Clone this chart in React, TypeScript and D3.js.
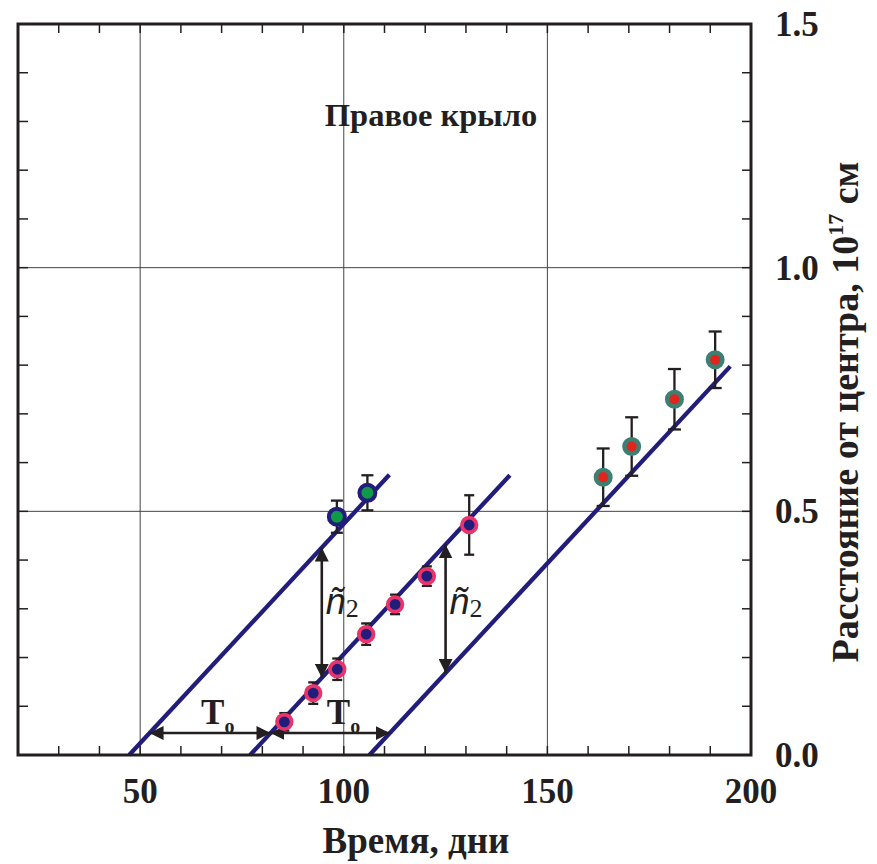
import React from 'react';
import * as d3 from 'd3';

// ---- data ----
const xMajorTicks = [50, 100, 150, 200];
const xTickLabels = ['50', '100', '150', '200'];
const yMajorTicks = [0.0, 0.5, 1.0, 1.5];
const yTickLabels = ['0.0', '0.5', '1.0', '1.5'];
const xGridValues = [50, 100, 150];
const yGridValues = [0.5, 1.0];

// green-filled points (upper line)
const greenDays = [98.3, 105.8];
const greenDist = [0.489, 0.538];
const greenErr = [0.033, 0.036];

// navy points with crimson rings (middle line)
const pinkDays = [85.4, 92.5, 98.4, 105.5, 112.6, 120.4, 130.8];
const pinkDist = [0.068, 0.127, 0.176, 0.248, 0.309, 0.367, 0.472];
const pinkErr = [0.018, 0.022, 0.022, 0.022, 0.02, 0.02, 0.061];

// red points with teal rings (lower line)
const redDays = [163.7, 170.7, 181.2, 191.2];
const redDist = [0.57, 0.633, 0.73, 0.811];
const redErr = [0.059, 0.06, 0.062, 0.058];

// fitted lines: start day at zero distance, end day, common slope
const fitStartDays = [47.3, 77.0, 106.3];
const fitEndDays = [111.2, 140.8, 194.9];
const fitSlope = 0.009;

// annotation anchors
const t0Level = 0.045;
const n2Days = [94.6, 125.0];
const t0LabelDays = [67.4, 98.3];

const W = 877;
const H = 864;

const serif = '"Liberation Serif", "Times New Roman", serif';
const sans = '"Liberation Sans", Arial, sans-serif';

const NAVY = '#221d7a';
const INK = '#231f20';

export default function App() {
  const x = d3.scaleLinear().domain([20, 200]).range([18, 751]);
  const y = d3.scaleLinear().domain([0, 1.5]).range([755, 24]);
  const [x0, x1] = x.range();
  const [yb, yt] = y.range();

  const xMinor = d3.range(20, 201, 10);
  const yMinor = d3.range(0, 16, 1).map((d) => d / 10);

  const fitAt = (i: number, t: number) => (t - fitStartDays[i]) * fitSlope;
  const dayAt = (i: number, v: number) => fitStartDays[i] + v / fitSlope;

  const errBar = (t: number, v: number, e: number, cap: number, key: string) => (
    <g key={key} stroke={INK} strokeWidth={2.3}>
      <line x1={x(t)} x2={x(t)} y1={y(v + e)} y2={y(v - e)} />
      <line x1={x(t) - cap} x2={x(t) + cap} y1={y(v + e)} y2={y(v + e)} />
      <line x1={x(t) - cap} x2={x(t) + cap} y1={y(v - e)} y2={y(v - e)} />
    </g>
  );

  return (
    <svg
      width={W}
      height={H}
      style={{ position: 'absolute', left: 0, top: 0, background: '#fff' }}
    >
      <defs>
        <marker
          id="ah"
          viewBox="0 0 12 12"
          refX={12}
          refY={6}
          markerWidth={14}
          markerHeight={14}
          markerUnits="userSpaceOnUse"
          orient="auto-start-reverse"
        >
          <path d="M0,0 L12,6 L0,12 Z" fill={INK} />
        </marker>
      </defs>

      {/* grid */}
      {xGridValues.map((v) => (
        <line key={'gx' + v} x1={x(v)} x2={x(v)} y1={yt} y2={yb} stroke="#444" strokeWidth={1} />
      ))}
      {yGridValues.map((v) => (
        <line key={'gy' + v} x1={x0} x2={x1} y1={y(v)} y2={y(v)} stroke="#444" strokeWidth={1} />
      ))}

      {/* minor ticks */}
      {xMinor.map((v) => (
        <g key={'tx' + v} stroke={INK} strokeWidth={1.5}>
          <line x1={x(v)} x2={x(v)} y1={yt} y2={yt + 9} />
          <line x1={x(v)} x2={x(v)} y1={yb} y2={yb - 9} />
        </g>
      ))}
      {yMinor.map((v) => (
        <g key={'ty' + v} stroke={INK} strokeWidth={1.5}>
          <line x1={x0} x2={x0 + 10} y1={y(v)} y2={y(v)} />
          <line x1={x1} x2={x1 - 9} y1={y(v)} y2={y(v)} />
        </g>
      ))}

      {/* fitted lines */}
      {fitStartDays.map((s, i) => (
        <line
          key={'fit' + i}
          x1={x(s)}
          y1={y(0)}
          x2={x(fitEndDays[i])}
          y2={y(fitAt(i, fitEndDays[i]))}
          stroke={NAVY}
          strokeWidth={4.3}
        />
      ))}

      {/* T0 arrows */}
      {[0, 1].map((i) => (
        <line
          key={'t0' + i}
          x1={x(dayAt(i, t0Level))}
          x2={x(dayAt(i + 1, t0Level))}
          y1={y(t0Level)}
          y2={y(t0Level)}
          stroke={INK}
          strokeWidth={2.6}
          markerStart="url(#ah)"
          markerEnd="url(#ah)"
        />
      ))}
      {/* n2 arrows */}
      {n2Days.map((t, i) => (
        <line
          key={'n2' + i}
          x1={x(t)}
          x2={x(t)}
          y1={y(fitAt(i, t))}
          y2={y(fitAt(i + 1, t))}
          stroke={INK}
          strokeWidth={2.6}
          markerStart="url(#ah)"
          markerEnd="url(#ah)"
        />
      ))}

      {/* error bars */}
      {greenDays.map((t, i) => errBar(t, greenDist[i], greenErr[i], 6, 'ge' + i))}
      {pinkDays.map((t, i) => errBar(t, pinkDist[i], pinkErr[i], 5, 'pe' + i))}
      {redDays.map((t, i) => errBar(t, redDist[i], redErr[i], 6.5, 're' + i))}

      {/* points */}
      {greenDays.map((t, i) => (
        <circle key={'g' + i} cx={x(t)} cy={y(greenDist[i])} r={8} fill="#0e9a48" stroke={NAVY} strokeWidth={4} />
      ))}
      {pinkDays.map((t, i) => (
        <circle key={'p' + i} cx={x(t)} cy={y(pinkDist[i])} r={7.3} fill={NAVY} stroke="#e8336b" strokeWidth={3.8} />
      ))}
      {redDays.map((t, i) => (
        <circle key={'r' + i} cx={x(t)} cy={y(redDist[i])} r={7.3} fill="#e0261c" stroke="#3c7f73" strokeWidth={4.4} />
      ))}

      {/* frame */}
      <rect x={x0} y={yt} width={x1 - x0} height={yb - yt} fill="none" stroke={INK} strokeWidth={3} />

      {/* tick labels */}
      {xMajorTicks.map((v, i) => (
        <text
          key={'xl' + v}
          x={x(v)}
          y={803}
          textAnchor="middle"
          fontFamily={serif}
          fontWeight="bold"
          fontSize={35}
          fill={INK}
        >
          {xTickLabels[i]}
        </text>
      ))}
      {yMajorTicks.map((v, i) => (
        <text
          key={'yl' + v}
          x={775}
          y={y(v) + 12}
          textAnchor="start"
          fontFamily={serif}
          fontWeight="bold"
          fontSize={35}
          fill={INK}
        >
          {yTickLabels[i]}
        </text>
      ))}

      {/* axis titles */}
      <text x={416} y={853} textAnchor="middle" fontFamily={serif} fontWeight="bold" fontSize={37} fill={INK}>
        Время, дни
      </text>
      <text
        transform="translate(858,412) rotate(-90)"
        textAnchor="middle"
        fontFamily={serif}
        fontWeight="bold"
        fontSize={38}
        fill={INK}
      >
        Расстояние от центра, 10
        <tspan fontSize={22} dy={-15}>17</tspan>
        <tspan dy={15}> см</tspan>
      </text>

      {/* panel label */}
      <text x={431} y={126} textAnchor="middle" fontFamily={serif} fontWeight="bold" fontSize={32.5} fill={INK}>
        Правое крыло
      </text>

      {/* T0 labels */}
      {t0LabelDays.map((t, i) => (
        <text key={'tl' + i} x={x(t) - 10} y={724} fontFamily={serif} fontWeight="bold" fontSize={35} fill={INK}>
          T<tspan fontSize={20} dy={9}>o</tspan>
        </text>
      ))}

      {/* n2 labels */}
      {n2Days.map((t, i) => (
        <text key={'nl' + i} x={x(t) + 4} y={614} fontFamily={sans} fontSize={36} fill={INK}>
          <tspan fontStyle="italic">ñ</tspan>
          <tspan fontFamily={serif} fontSize={26} dy={3}>2</tspan>
        </text>
      ))}
    </svg>
  );
}
